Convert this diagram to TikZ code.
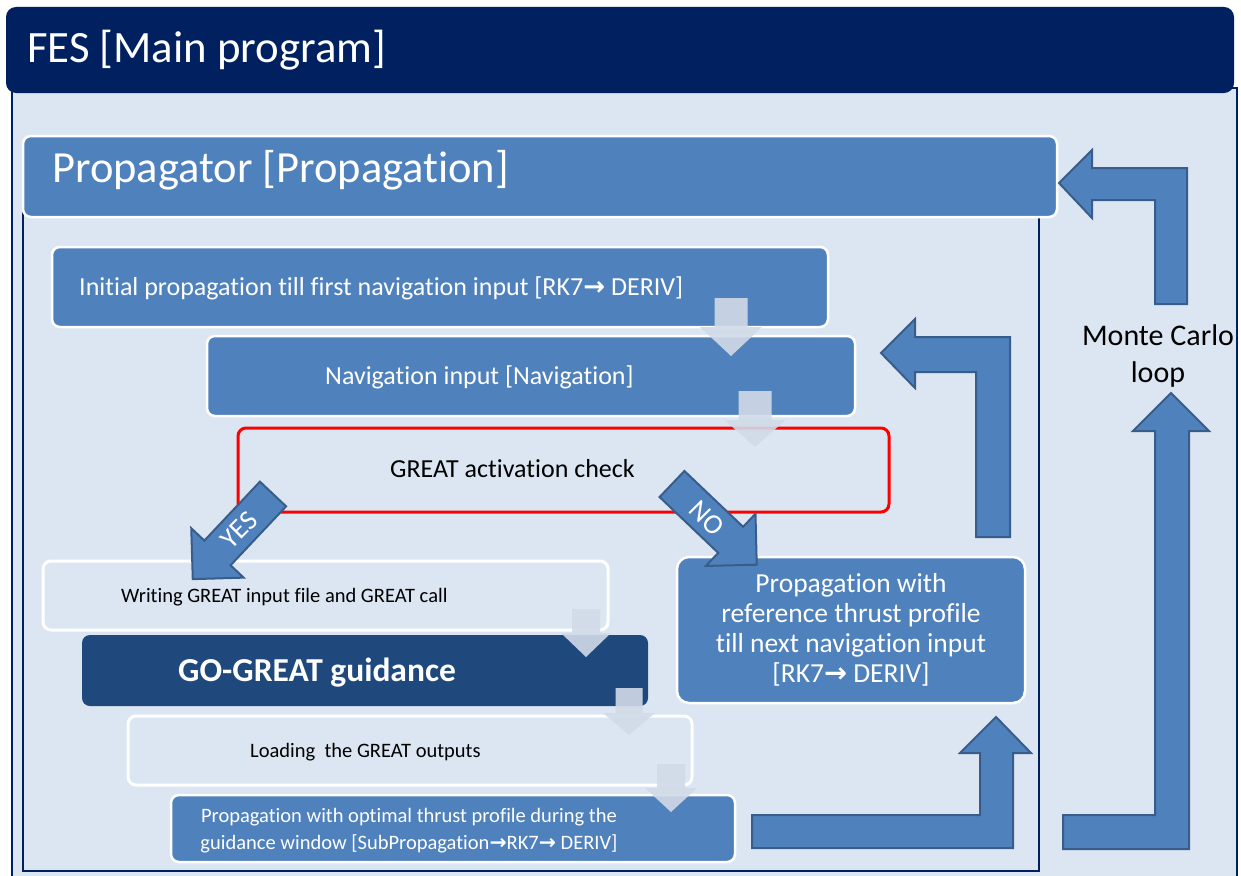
\documentclass[tikz,border=0pt]{standalone}
\usepackage{fontspec}
\setmainfont{Carlito}[Ligatures=NoCommon]
\newfontfamily\arrowglyph{DejaVu Sans}
\newcommand{\flowarr}{{\arrowglyph\bfseries\char"2192}}
\newcommand{\fsz}[1]{\fontsize{#1}{#1}\selectfont}

\definecolor{navy}{HTML}{002060}
\definecolor{framefill}{HTML}{DCE6F2}
\definecolor{boxblue}{HTML}{4F81BD}
\definecolor{darkbox}{HTML}{1F497D}
\definecolor{arrowline}{HTML}{385D8A}
\definecolor{stepfill}{RGB}{210,218,232}

% light downward step arrow: centre x, top y, head base y, tip y, shaft half width, head half width
\newcommand{\stepdown}[6]{%
  \fill[steparrow] ({#1-#5},#2) -- ({#1+#5},#2) -- ({#1+#5},#3) -- ({#1+#6},#3)
    -- (#1,#4) -- ({#1-#6},#3) -- ({#1-#5},#3) -- cycle;}

\tikzset{
  frame/.style={draw=navy, line width=2.5pt, fill=framefill},
  panel/.style={anchor=north west, inner sep=0pt, outer sep=0pt, rounded corners=8pt},
  titlebar/.style={panel, fill=navy, rounded corners=10pt},
  bluebox/.style={panel, fill=boxblue, draw=white, line width=2.5pt},
  palebox/.style={panel, fill=framefill, draw=white, line width=3pt},
  checkbox/.style={panel, fill=framefill, draw=red, line width=3pt},
  darkpanel/.style={panel, fill=darkbox},
  whitetext/.style={text=white, inner sep=0pt, anchor=base west},
  blacktext/.style={text=black, inner sep=0pt, anchor=base west},
  whitecentre/.style={text=white, inner sep=0pt, anchor=base},
  blackcentre/.style={text=black, inner sep=0pt, anchor=base},
  bigarrow/.style={fill=boxblue, draw=arrowline, line width=2pt, line join=miter},
  steparrow/.style={fill=stepfill, fill opacity=0.9},
  arrowlabel/.style={text=white, inner sep=0pt, font=\fsz{28}},
}

\begin{document}
\begin{tikzpicture}[x=1pt, y=-1pt]
\useasboundingbox (0,0) rectangle (1241,875);
\clip (0,0) rectangle (1241,875);
\fill[white] (0,0) rectangle (1241,875);

% main program frame and propagator frame
\draw[frame] (12,88) rectangle (1237,900);
\draw[frame] (23,190) rectangle (1039,871);

% title bar
\node[titlebar, minimum width=1228, minimum height=86] (fes) at (6,7) {};
\node[whitetext, font=\fsz{44.8}] (fesT) at (27,63) {FES [Main program]};

% propagator header
\node[bluebox, minimum width=1034, minimum height=81] (prop) at (23,136) {};
\node[whitetext, font=\fsz{44.5}] (propT) at (52,182) {Propagator [Propagation]};

% Monte Carlo loop arrows
\draw[bigarrow] (1059,183) -- (1092,150) -- (1092,168) -- (1187,168) -- (1187,304)
  -- (1155,304) -- (1155,200) -- (1092,200) -- (1092,218) -- cycle;
\draw[bigarrow] (1171,393) -- (1209,431) -- (1189,431) -- (1189,849) -- (1063,849)
  -- (1063,815) -- (1155,815) -- (1155,431) -- (1133,431) -- cycle;
\node[blackcentre, font=\fsz{30}] (mc1) at (1158,345) {Monte Carlo};
\node[blackcentre, font=\fsz{30}] (mc2) at (1158,382) {loop};

% navigation loop arrows
\draw[bigarrow] (881,353) -- (915,319) -- (915,337) -- (1010,337) -- (1010,537)
  -- (976,537) -- (976,372) -- (915,372) -- (915,388) -- cycle;
\draw[bigarrow] (752,815) -- (980,815) -- (980,753) -- (960,753) -- (996,717)
  -- (1031,753) -- (1013,753) -- (1013,848) -- (752,848) -- cycle;

% process boxes
\node[bluebox, minimum width=776, minimum height=80] (init) at (52,247) {};
\node[whitetext, font=\fsz{26}] (initT) at (79,295)
  {Initial propagation till first navigation input [RK7\flowarr{} DERIV]};

\node[bluebox, minimum width=648, minimum height=80] (nav) at (207,336) {};
\node[whitetext, font=\fsz{26}] (navT) at (325,384) {Navigation input [Navigation]};

\node[checkbox, minimum width=651, minimum height=84] (check) at (238,428) {};
\node[blacktext, font=\fsz{26}] (checkT) at (390,477) {GREAT activation check};

\node[palebox, minimum width=565, minimum height=69] (write) at (43,561) {};
\node[blacktext, font=\fsz{20.5}] (writeT) at (121,602) {Writing GREAT input file and GREAT call};

\node[darkpanel, minimum width=566, minimum height=71] (guid) at (82,635) {};
\node[whitetext, font=\bfseries\fsz{33.5}] (guidT) at (178,681) {GO-GREAT guidance};

\node[palebox, minimum width=564, minimum height=69] (load) at (128,716) {};
\node[blacktext, font=\fsz{20.5}] (loadT) at (250,757) {Loading\ \ the GREAT outputs};

\node[bluebox, minimum width=564, minimum height=67] (opt) at (171,795) {};
\node[whitecentre, font=\fsz{20.5}] (optT1) at (409,822) {Propagation with optimal thrust profile during the};
\node[whitecentre, font=\fsz{20.5}] (optT2) at (409,849) {guidance window [SubPropagation\flowarr RK7\flowarr{} DERIV]};

\node[bluebox, rounded corners=12pt, minimum width=348, minimum height=146] (ref) at (677,557) {};
\node[whitecentre, font=\fsz{27.5}] (refT1) at (851,592) {Propagation with};
\node[whitecentre, font=\fsz{27.5}] (refT2) at (851,622) {reference thrust profile};
\node[whitecentre, font=\fsz{27.5}] (refT3) at (851,652) {till next navigation input};
\node[whitecentre, font=\fsz{27.5}] (refT4) at (851,682) {[RK7\flowarr{} DERIV]};

% step arrows between consecutive boxes
\stepdown{731}{298}{327}{356}{16.5}{31}
\stepdown{755}{391}{420}{447}{16.5}{30.5}
\stepdown{586}{609}{633}{657}{14}{25}
\stepdown{629}{688}{713}{735}{13.5}{26}
\stepdown{671}{764}{788}{812}{14}{26}

% decision arrows
\begin{scope}[shift={(273,494)}, rotate=-133.3]
  \draw[bigarrow] (0,-18) -- (81,-18) -- (81,-36) -- (117,0) -- (81,36) -- (81,18) -- (0,18) -- cycle;
\end{scope}
\node[arrowlabel, rotate=45] (yes) at (239,530) {YES};

\begin{scope}[shift={(672,484)}, rotate=-43.6]
  \draw[bigarrow] (0,-18) -- (81,-18) -- (81,-36) -- (117,0) -- (81,36) -- (81,18) -- (0,18) -- cycle;
\end{scope}
\node[arrowlabel, rotate=-45] (no) at (707,518) {NO};
\end{tikzpicture}
\end{document}
